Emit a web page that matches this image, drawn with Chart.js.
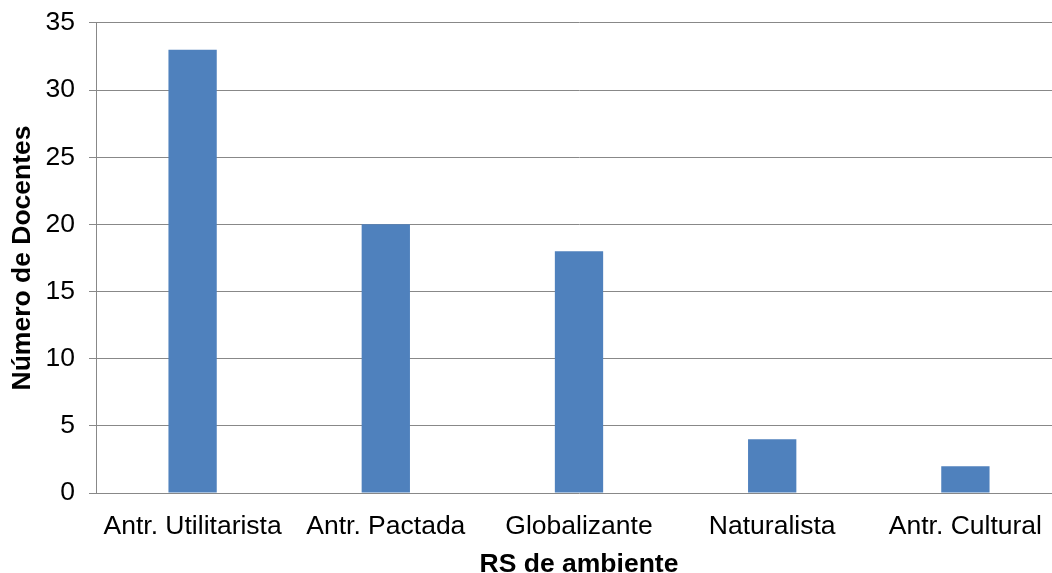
<!DOCTYPE html>
<html>
<head>
<meta charset="utf-8">
<script src="https://cdn.jsdelivr.net/npm/chart.js@4/dist/chart.umd.min.js"></script>
<style>
  html, body { margin: 0; padding: 0; background: #fff; overflow: hidden; }
  #wrap { position: relative; top: -7px; width: 1062px; height: 580px; }
</style>
</head>
<body>
<div id="wrap"><canvas id="c"></canvas></div>
<script>
const categories = ['Antr. Utilitarista', 'Antr. Pactada', 'Globalizante', 'Naturalista', 'Antr. Cultural'];
const docentes = [33, 20, 18, 4, 2];
const yTicks = [0, 5, 10, 15, 20, 25, 30, 35];

const FONT = 'Arial, "Liberation Sans", sans-serif';
const GRID = '#888888';

new Chart(document.getElementById('c'), {
  type: 'bar',
  data: {
    labels: categories,
    datasets: [{
      data: docentes,
      backgroundColor: '#4F81BD',
      borderWidth: 0,
      barPercentage: 1,
      categoryPercentage: 0.25
    }]
  },
  options: {
    responsive: true,
    maintainAspectRatio: false,
    animation: false,
    layout: { padding: 0 },
    plugins: { legend: { display: false }, tooltip: { enabled: false } },
    scales: {
      x: {
        grid: { display: false, drawTicks: false },
        border: { display: false },
        ticks: { color: '#000', font: { family: FONT, size: 26.5 }, padding: 18, maxRotation: 0 },
        title: {
          display: true, text: 'RS de ambiente', color: '#000',
          font: { family: FONT, size: 26.5, weight: 'bold' },
          padding: { top: 0, bottom: -8 }
        },
        afterFit: s => { s.height = 80; }
      },
      y: {
        min: 0, max: 35,
        afterBuildTicks: s => { s.ticks = yTicks.map(v => ({ value: v })); },
        grid: { color: GRID, lineWidth: 1, tickLength: 7, drawTicks: true },
        border: { display: true, color: GRID, width: 1 },
        ticks: { color: '#000', font: { family: FONT, size: 26.5 }, padding: 14 },
        title: {
          display: true, text: 'Número de Docentes', color: '#000',
          font: { family: FONT, size: 26.5, weight: 'bold' },
          padding: { top: 7, bottom: 0 }
        },
        afterFit: s => { s.width = 96; }
      }
    }
  }
});
</script>
</body>
</html>
